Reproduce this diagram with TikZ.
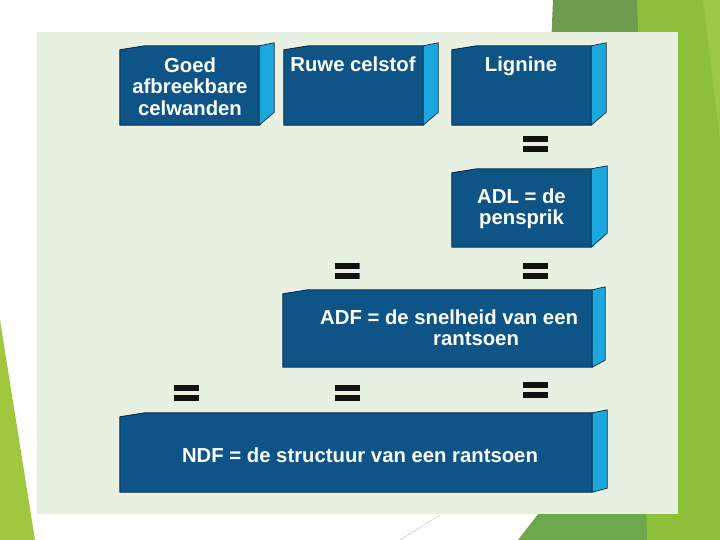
\documentclass[tikz,border=0pt]{standalone}
\usepackage{fontspec}
\setmainfont{Liberation Sans}
\usetikzlibrary{calc}
\definecolor{panelbg}{HTML}{E7F0E1}
\definecolor{frontblue}{HTML}{0E5487}
\definecolor{edgeblue}{HTML}{0A2C4A}
\definecolor{sidecyan}{HTML}{1CA8DC}
\definecolor{leafgreen}{HTML}{8DBF3A}
\definecolor{darkgreen}{HTML}{6F9B4E}
\definecolor{midgreen}{HTML}{6DA84A}
\definecolor{paleyellowgreen}{HTML}{9BC845}
\definecolor{lefttri}{HTML}{A1C73F}
\definecolor{eqblack}{HTML}{111111}
\newcommand{\cubesides}[3]{%
  \filldraw[frontface] ([yshift=-4pt]#1.north west) -- ([xshift=25pt]#1.north west) -- (#1.north east) -- (#1.south east) -- (#1.south west) -- cycle;
  \filldraw[sideface] (#1.north east) -- ([shift={(#2,3pt)}]#1.north east) -- ([shift={(#2,#3)}]#1.south east) -- (#1.south east) -- cycle;}
\tikzset{
  boxnode/.style={rectangle, inner sep=0pt, draw=none},
  frontface/.style={fill=frontblue, draw=edgeblue, line width=0.9pt, line join=round},
  sideface/.style={fill=sidecyan, draw=edgeblue, line width=0.7pt, line join=round},
  boxtext/.style={text=white, font=\bfseries\fontsize{20.3}{21.5}\selectfont, inner sep=0pt, align=center, anchor=base},
  eqsign/.style={rectangle, minimum width=25pt, minimum height=16pt, inner sep=0pt,
    path picture={
      \fill[eqblack] (path picture bounding box.north west) rectangle ([yshift=-6pt]path picture bounding box.north east);
      \fill[eqblack] (path picture bounding box.south west) rectangle ([yshift=6pt]path picture bounding box.south east);}},
  panelstyle/.style={fill=panelbg, draw=none}
}
\begin{document}
\begin{tikzpicture}[x=1pt, y=-1pt]
\useasboundingbox (0,0) rectangle (720,540);
\fill[white] (0,0) rectangle (720,540);
% decorative slide shapes
\fill[leafgreen] (630,0) -- (720,0) -- (720,540) -- (630,540) -- cycle;
\fill[paleyellowgreen] (703,0) -- (720,0) -- (720,140) -- cycle;
\fill[darkgreen] (553,0) -- (637,0) -- (641,120) -- (548,120) -- cycle;
\fill[midgreen] (580,460) -- (645,460) -- (647,540) -- (518,540) -- cycle;
\fill[lefttri] (0,320) -- (35,540) -- (0,540) -- cycle;
\draw[black!18, line width=0.6pt] (440,515) -- (400,540);
% panel
\fill[panelstyle] (37,32) rectangle (678,514);
% boxes
\node[boxnode, minimum width=139pt, minimum height=79pt] (b1) at (189.5,85.5) {};
\cubesides{b1}{15pt}{13pt}
\node[boxnode, minimum width=139pt, minimum height=79pt] (b2) at (353.5,85.5) {};
\cubesides{b2}{15pt}{13pt}
\node[boxnode, minimum width=139pt, minimum height=79pt] (b3) at (521.5,85.5) {};
\cubesides{b3}{15pt}{13pt}
\node[boxnode, minimum width=139pt, minimum height=78pt] (b4) at (521.5,208) {};
\cubesides{b4}{16pt}{14pt}
\node[boxnode, minimum width=309pt, minimum height=77pt] (b5) at (437.5,328.5) {};
\cubesides{b5}{13pt}{7pt}
\node[boxnode, minimum width=472pt, minimum height=79pt] (b6) at (356,452.5) {};
\cubesides{b6}{15pt}{4pt}
% texts (base anchor = baseline of the last line)
\node[boxtext] (t1) at (190,115.5) {Goed\\afbreekbare\\celwanden};
\node[boxtext] (t2) at (353,72) {Ruwe celstof};
\node[boxtext] (t3) at (521,72) {Lignine};
\node[boxtext] (t4) at (521.5,225) {ADL = de\\pensprik};
\node[boxtext, align=left, anchor=base west] (t5) at (320,345.5) {ADF = de snelheid van een\\\hspace*{113pt}rantsoen};
\node[boxtext] (t6) at (360,462) {NDF = de structuur van een rantsoen};
% equal signs
\node[eqsign] (e1) at (535.5,144.5) {};
\node[eqsign] (e2) at (347,270.5) {};
\node[eqsign] (e3) at (535.5,270.5) {};
\node[eqsign] (e4) at (186.5,392.5) {};
\node[eqsign] (e5) at (347.5,393) {};
\node[eqsign] (e6) at (535.5,390) {};
\end{tikzpicture}
\end{document}
